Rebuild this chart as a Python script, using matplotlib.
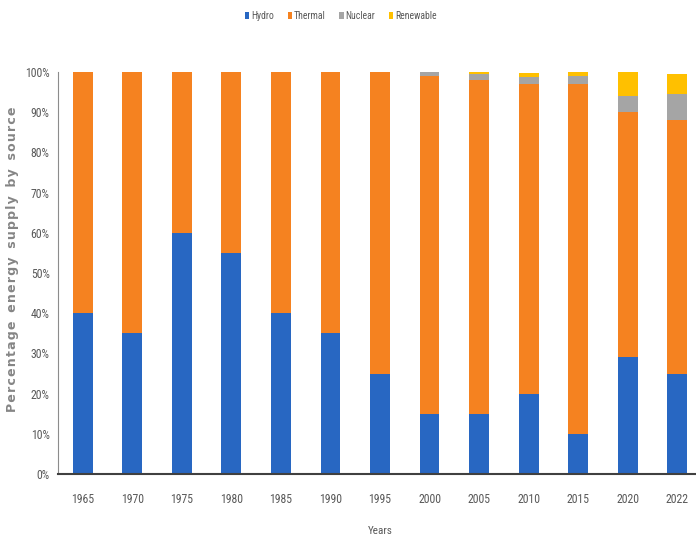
import matplotlib.pyplot as plt
import numpy as np
from matplotlib import font_manager
from matplotlib.ticker import PercentFormatter

years = ["1965", "1970", "1975", "1980", "1985", "1990", "1995",
         "2000", "2005", "2010", "2015", "2020", "2022"]
hydro = [40, 35, 60, 55, 40, 35, 25, 15, 15, 20, 10, 29, 25]
thermal = [60, 65, 40, 45, 60, 65, 75, 84, 83, 77, 87, 61, 63]
nuclear = [0, 0, 0, 0, 0, 0, 0, 1, 1.5, 1.8, 2, 4, 6.5]
renewable = [0, 0, 0, 0, 0, 0, 0, 0, 0.5, 1, 1, 6, 5]

series = [("Hydro", hydro, "#2867c2"),
          ("Thermal", thermal, "#f58220"),
          ("Nuclear", nuclear, "#a5a5a5"),
          ("Renewable", renewable, "#ffc000")]

installed = {f.name for f in font_manager.fontManager.ttflist}
narrow = [f for f in ["Liberation Sans Narrow", "DejaVu Sans Condensed", "Roboto Condensed"]
          if f in installed] + ["DejaVu Sans"]

fig = plt.figure(figsize=(6.96, 5.4), dpi=100)
ax = fig.add_axes([58 / 696, 66 / 540, 644 / 696, 402 / 540])

x = np.arange(len(years))
bottom = np.zeros(len(years))
handles = []
for name, vals, col in series:
    b = ax.bar(x, vals, width=0.4, bottom=bottom, color=col, label=name)
    bottom += np.array(vals)
    handles.append(b)

ax.set_xlim(-0.5, len(years) - 0.5)
ax.set_ylim(0, 100)
ax.set_yticks(np.arange(0, 101, 10))
ax.yaxis.set_major_formatter(PercentFormatter(decimals=0))
ax.set_xticks(x)
ax.set_xticklabels(years)
ax.tick_params(length=0, labelsize=8.5, colors="#595959")
ax.tick_params(axis="x", pad=14)
ax.tick_params(axis="y", pad=6)
for lab in ax.get_xticklabels() + ax.get_yticklabels():
    lab.set_family(narrow)
    lab.set_stretch("condensed")

for s in ["top", "right"]:
    ax.spines[s].set_visible(False)
ax.spines["left"].set_color("#8c8c8c")
ax.spines["bottom"].set_color("#404040")
ax.spines["bottom"].set_linewidth(1.5)

ax.set_xlabel("Years", fontsize=8, color="#595959", family=narrow, labelpad=14)

# letter-spaced y label
ylab = "  ".join("\u200a".join(w) for w in "Percentage energy supply by source".split())
fig.text(13 / 696, 1 - 259 / 540, ylab, rotation=90, ha="center", va="center",
         fontsize=9, fontweight="semibold", family="DejaVu Sans", color="#858585")

fig.legend(handles=handles, loc="center", bbox_to_anchor=(341 / 696, 1 - 16 / 540),
           ncol=4, frameon=False, handlelength=0.45, handleheight=0.8,
           handletextpad=0.2, columnspacing=1.4, prop={"family": narrow, "size": 7},
           labelcolor="#595959")

fig.savefig("out.png", dpi=100)
